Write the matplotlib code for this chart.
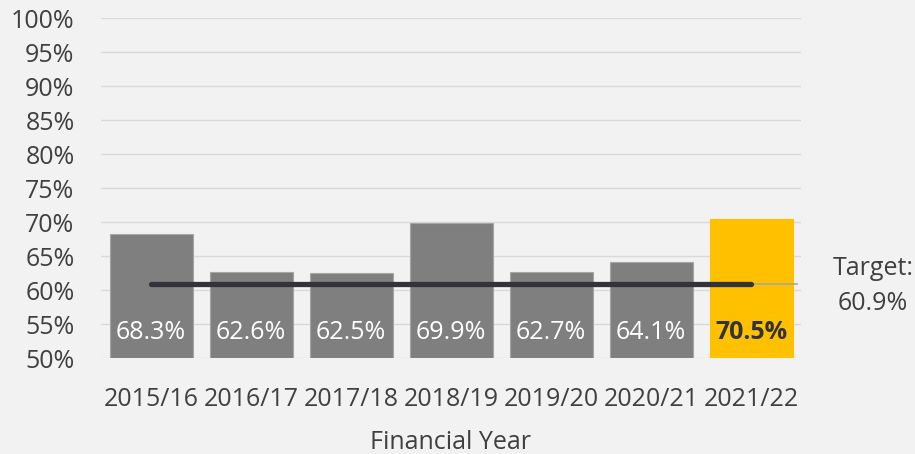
import matplotlib
matplotlib.use("Agg")
import matplotlib.pyplot as plt
from matplotlib.ticker import FuncFormatter

years = ["2015/16", "2016/17", "2017/18", "2018/19", "2019/20", "2020/21", "2021/22"]
values = [68.3, 62.6, 62.5, 69.9, 62.7, 64.1, 70.5]
target = 60.9
colors = ["#7F7F7F"] * 6 + ["#FFC000"]

plt.rcParams['font.family'] = ['Open Sans', 'DejaVu Sans']
bg = "#F2F2F2"
txt = "#404040"
fs = 18

fig = plt.figure(figsize=(9.15, 4.54), dpi=100, facecolor=bg)
ax = fig.add_axes([101/915, 1 - 358/454, 700/915, 340/454], facecolor=bg)

x = list(range(len(years)))
ax.bar(x, [v - 50 for v in values], bottom=50, width=0.83, color=colors,
       edgecolor=["#A6A6A6"] * 6 + ["#FFC000"], linewidth=0.8, zorder=2)

ax.set_xlim(-0.5, 6.5)
ax.set_ylim(50, 100)
ax.set_yticks(range(50, 101, 5))
ax.yaxis.set_major_formatter(FuncFormatter(lambda v, p: f"{v:.0f}%"))
ax.grid(axis='y', color="#D9D9D9", linewidth=1, zorder=0)
ax.set_axisbelow(True)
for s in ax.spines.values():
    s.set_visible(False)
ax.tick_params(axis='both', length=0, labelsize=fs, colors=txt)
ax.tick_params(axis='y', pad=19)
ax.tick_params(axis='x', pad=21)
ax.set_xticks(x)
ax.set_xticklabels(years)
ax.set_xlabel("Financial Year", fontsize=fs, color=txt, labelpad=13)

# target line
ax.plot([x[0], x[-1]], [target, target], color="#33333D", linewidth=3.8,
        solid_capstyle='round', zorder=4)
ax.plot([x[-1], 6.46], [target, target], color="#A6A6A6", linewidth=1.2, zorder=3)
ax.text(7.22, target - 0.3, "Target:\n60.9%", ha='center', va='center', fontsize=fs,
        color=txt, linespacing=1.5, clip_on=False)

for i, v in enumerate(values):
    last = i == len(values) - 1
    ax.text(i, 53.75, f"{v:.1f}%", ha='center', va='center', fontsize=fs,
            color="#333333" if last else "white",
            fontweight='bold' if last else 'normal', zorder=5)

fig.savefig("out.png", dpi=100, facecolor=bg)
